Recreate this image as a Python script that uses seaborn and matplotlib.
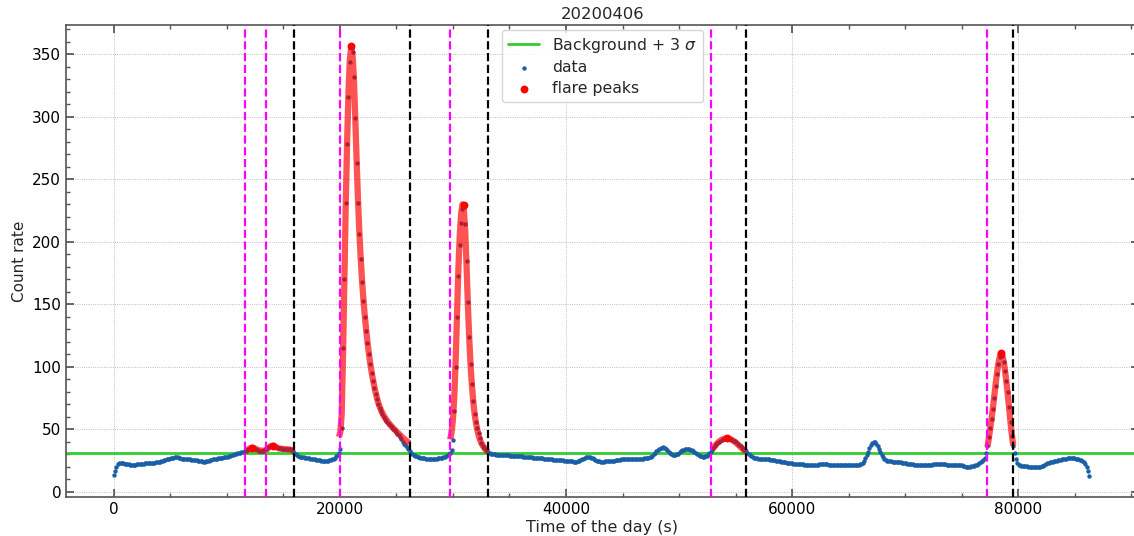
import numpy as np
import matplotlib
matplotlib.use("Agg")
import matplotlib.pyplot as plt
import seaborn as sns
from matplotlib.ticker import MultipleLocator

# light curve of 20200406, one bin every 120 s, one row per hour
cadence = 120
counts = [
    13.6, 17, 20, 22.5, 23.2, 23.2, 23, 22.8, 22.6, 22.4, 22.2, 22, 21.9, 21.8, 21.7, 21.8, 21.9, 22, 22.1, 22.2, 22.4, 22.5, 22.6, 22.8, 23, 23.1, 23.2, 23.2, 23.3, 23.4,
    23.5, 23.6, 23.8, 24, 24.3, 24.6, 25, 25.4, 25.8, 26.1, 26.4, 26.7, 27, 27.2, 27.4, 27.6, 27.7, 27.6, 27.3, 27, 26.7, 26.5, 26.3, 26.2, 26.1, 26, 26, 25.9, 25.8, 25.6,
    25.4, 25.2, 25, 24.8, 24.6, 24.4, 24.3, 24.3, 24.5, 24.8, 25.1, 25.4, 25.7, 26, 26.2, 26.4, 26.6, 26.8, 27, 27.2, 27.4, 27.6, 27.8, 28, 28.3, 28.6, 29, 29.4, 29.8, 30.2,
    30.5, 30.8, 31.1, 31.4, 31.7, 32, 32.3, 32.7, 33.3, 34, 34.7, 35.2, 35.4, 35.2, 34.6, 34, 33.4, 33, 32.8, 32.7, 32.8, 33.2, 34, 35, 35.9, 36.5, 36.9, 37, 36.8, 36.3,
    35.8, 35.3, 35, 34.8, 34.7, 34.7, 34.6, 34.6, 34.5, 34.3, 34, 33.5, 32.7, 31.5, 30.2, 29.2, 28.6, 28.3, 28.1, 27.9, 27.7, 27.5, 27.3, 27.1, 26.9, 26.7, 26.5, 26.3, 26.1, 25.9,
    25.7, 25.5, 25.3, 25.1, 24.9, 24.8, 24.8, 24.9, 25.1, 25.3, 25.6, 26, 26.5, 27.3, 28.5, 29.8, 31.5, 34.4, 50.9, 115, 170, 231, 278, 316, 343.5, 356.5, 352, 332, 299, 263,
    231, 206, 186, 168, 153, 140, 129, 119, 110, 102, 95, 89, 83.5, 78.5, 74, 70.5, 67.5, 64.8, 62.4, 60.2, 58.3, 56.8, 55.4, 54.1, 52.9, 51.7, 50.5, 49.2, 47.9, 46.6,
    45.3, 44, 42.2, 40.2, 38.6, 37.3, 36, 34.5, 32.8, 31.3, 30.2, 29.4, 28.8, 28.4, 28.1, 27.8, 27.5, 27.2, 27, 26.8, 26.7, 26.6, 26.5, 26.4, 26.4, 26.4, 26.4, 26.5, 26.6, 26.8,
    27, 27.2, 27.4, 27.6, 28, 28.6, 29.3, 30.1, 31.5, 33.6, 41.6, 65, 100, 140, 172.7, 197.4, 214.8, 226, 229, 214, 184.4, 152, 124, 102, 86, 73, 62, 56, 51, 47,
    43.5, 39.5, 37, 35, 33.5, 32.5, 31.7, 31, 30.6, 30.3, 30.1, 30, 29.9, 29.8, 29.8, 29.8, 29.7, 29.6, 29.5, 29.4, 29.3, 29.2, 29.1, 29.1, 29, 29, 28.9, 28.9, 28.8, 28.7,
    28.6, 28.5, 28.3, 28.2, 28, 27.9, 27.8, 27.7, 27.6, 27.5, 27.4, 27.3, 27.2, 27.1, 27, 26.9, 26.8, 26.6, 26.5, 26.4, 26.3, 26.2, 26.1, 26, 25.9, 25.8, 25.8, 25.7, 25.6, 25.5,
    25.4, 25.2, 25, 24.9, 24.8, 24.7, 24.6, 24.5, 24.4, 24.3, 24.3, 24.3, 24.5, 24.9, 25.4, 26, 26.6, 27.2, 27.6, 27.9, 28, 27.8, 27.4, 26.8, 26.2, 25.6, 25.1, 24.7, 24.4, 24.3,
    24.3, 24.3, 24.4, 24.5, 24.6, 24.7, 24.8, 24.8, 24.9, 25, 25.2, 25.4, 25.6, 25.8, 26, 26.1, 26.2, 26.2, 26.3, 26.3, 26.3, 26.4, 26.4, 26.4, 26.4, 26.5, 26.5, 26.6, 26.6, 26.7,
    26.7, 26.8, 26.9, 27, 27.2, 27.6, 28.2, 29, 30, 31.2, 32.4, 33.4, 34.3, 35, 35.5, 35.6, 35.2, 34.4, 33.4, 32.3, 31.2, 30.3, 29.7, 29.5, 29.6, 30, 30.7, 31.6, 32.5, 33.3,
    33.8, 34.1, 34.2, 34.2, 34, 33.7, 33.2, 32.6, 31.9, 31.1, 30.3, 29.5, 28.9, 28.4, 28.1, 28.1, 28.4, 29, 29.9, 31, 32.3, 33.7, 35.2, 36.7, 38, 39.2, 40.2, 41, 41.7, 42.2,
    42.6, 42.8, 42.9, 42.8, 42.6, 42.2, 41.7, 41.1, 40.4, 39.6, 38.6, 37.6, 36.5, 35.4, 34.3, 33.3, 32.4, 31.4, 30.2, 29.2, 28.4, 27.8, 27.3, 27, 26.8, 26.7, 26.6, 26.5, 26.5, 26.4,
    26.4, 26.3, 26.2, 26, 25.8, 25.6, 25.4, 25.2, 25, 24.8, 24.6, 24.4, 24.2, 24, 23.8, 23.6, 23.5, 23.3, 23.1, 23, 22.8, 22.7, 22.6, 22.5, 22.4, 22.3, 22.2, 22.1, 22, 21.9,
    21.8, 21.7, 21.7, 21.6, 21.6, 21.6, 21.6, 21.7, 21.8, 21.9, 22, 22.1, 22.1, 22.1, 22.1, 22.1, 22, 21.9, 21.8, 21.7, 21.6, 21.6, 21.6, 21.7, 21.7, 21.7, 21.6, 21.6, 21.6, 21.6,
    21.7, 21.8, 21.8, 21.8, 21.7, 21.6, 21.6, 21.6, 21.7, 21.9, 22.2, 22.7, 23.4, 25, 27.2, 29.6, 32.2, 34.8, 37.2, 39, 40, 39.8, 38.6, 36.6, 34.2, 31.8, 29.5, 27.6, 26.4, 25.6,
    25.1, 24.8, 24.6, 24.4, 24.3, 24.2, 24.1, 24, 23.9, 23.8, 23.7, 23.5, 23.3, 23, 22.8, 22.6, 22.4, 22.2, 22.1, 22, 21.9, 21.8, 21.7, 21.7, 21.6, 21.6, 21.6, 21.6, 21.6, 21.6,
    21.6, 21.7, 21.8, 21.9, 22, 22.1, 22.1, 22.1, 22.1, 22.1, 22.1, 22.1, 22.1, 22, 21.9, 21.8, 21.8, 21.8, 21.8, 21.8, 21.7, 21.7, 21.6, 21.6, 21.5, 21.2, 20.8, 20.5, 20.3, 20.2,
    20.2, 20.3, 20.5, 20.8, 21.1, 21.4, 21.7, 22.2, 22.9, 23.7, 24.5, 25.6, 27.5, 31.5, 37, 44, 51, 58, 66, 75, 85, 94, 102, 108, 111, 109, 104, 97, 89, 80,
    68, 56, 45, 37, 31, 26, 23, 21.8, 21.3, 21, 20.8, 20.6, 20.5, 20.4, 20.3, 20.3, 20.2, 20.2, 20.2, 20.2, 20.2, 20.2, 20.2, 20.3, 20.5, 21, 21.7, 22.4, 23, 23.4,
    23.7, 23.9, 24.1, 24.4, 24.7, 25, 25.3, 25.6, 25.9, 26.1, 26.3, 26.5, 26.7, 26.9, 27.1, 27.3, 27.4, 27.3, 27, 26.7, 26.4, 26.1, 25.7, 25.2, 24.6, 23.8, 22.3, 19.8, 16.5, 13,
]

background = 31.4  # background + 3 sigma

start_times = [11600, 13450, 19980, 29740, 52840, 77260]
end_times = [15930, 26200, 33100, 55930, 79560]

peak_times = [12240, 14040, 21000, 30960, 54240, 78480]
peak_counts = [35.4, 37, 356.5, 229, 42.9, 111]

# fitted flare profiles, same 120 s binning, first bin in fit_starts
fit_starts = [11640, 13440, 19920, 29760, 52920, 77280]
fit_a = [32.3, 33, 33.8, 34.6, 35.2, 35.5, 35.3, 34.8, 34.2, 33.7, 33.3, 33.1, 33, 33, 33.1, 33.3]
fit_b = [33.3, 34.2, 35.3, 36.2, 36.8, 37, 36.8, 36.2, 35.6, 35.1, 34.8, 34.6, 34.5, 34.4, 34.3,
         34.2, 34.1, 34, 33.8, 33.6, 33.4, 33.2]
fit_c = [44, 48, 62, 110, 170, 231, 280, 320, 346, 355, 349, 330, 299, 265, 234, 208, 187, 169, 154, 141,
         130, 120, 111, 103, 96, 90, 84.5, 79.5, 75, 71.2, 68, 65.3, 63, 61, 59.2, 57.6,
         56.1, 54.7, 53.4, 52.2, 51, 49.9, 48.8, 47.7, 46.6, 45.5, 44.4, 43.4, 42.4, 41.5, 40.6, 39.7, 38.9]
fit_d = [42, 48, 58, 76, 105, 142, 178, 205, 222, 230, 226, 210, 182, 150, 123, 101, 85, 72, 62, 55,
         49.5, 45, 41.5, 39, 37, 35.3, 34, 33, 32.2]
fit_e = [34, 35.4, 36.8, 38, 39.2, 40.2, 41, 41.7, 42.2, 42.6, 42.8, 42.9, 42.8, 42.5, 42, 41.4, 40.7,
         39.9, 39, 38, 37, 36, 35, 34, 33.1, 32.3]
fit_f = [36, 43, 50.5, 58.5, 67, 76.5, 86, 95, 102.5, 108, 110.5, 109, 104, 96.5, 87.5, 77.5, 66.5,
         55.5, 45.5, 37]
fits = [fit_a, fit_b, fit_c, fit_d, fit_e, fit_f]

sns.set_theme(style="ticks", rc={
    "xtick.direction": "in", "ytick.direction": "in",
    "xtick.top": True, "ytick.right": True,
    "xtick.minor.visible": True, "ytick.minor.visible": True,
    "xtick.major.size": 6, "ytick.major.size": 6,
    "xtick.minor.size": 3, "ytick.minor.size": 3,
    "axes.edgecolor": "#555555", "axes.linewidth": 1.2,
    "xtick.color": "#555555", "ytick.color": "#555555",
    "xtick.labelcolor": "black", "ytick.labelcolor": "black",
})
plt.rcParams["font.family"] = ["DejaVu Sans"]

fig = plt.figure(figsize=(11.34, 5.36), dpi=100)
# the right spine sits just past the edge of the picture
ax = fig.add_axes([0.0582, 0.0728, 0.9462, 0.8806])

time = np.arange(len(counts)) * cadence

ax.axhline(background, color="limegreen", lw=2, label=r"Background + 3 $\sigma$", zorder=2)
sns.scatterplot(x=time, y=counts, ax=ax, s=10, color="#1a5fa6", linewidth=0, label="data", zorder=3)

for t0, vals in zip(fit_starts, fits):
    t_fit = t0 + np.arange(len(vals)) * cadence
    ax.plot(t_fit, vals, color="red", lw=4.5, alpha=0.68, solid_capstyle="butt", zorder=4)

sns.scatterplot(x=peak_times, y=peak_counts, ax=ax, s=32, color="red", linewidth=0,
                label="flare peaks", zorder=5)

for t in start_times:
    ax.axvline(t, color="magenta", ls="--", lw=1.6, zorder=6)
for t in end_times:
    ax.axvline(t, color="black", ls="--", lw=1.6, zorder=6)

ax.set_xlim(-4226, 90682)
ax.set_ylim(-4, 373.3)
ax.xaxis.set_major_locator(MultipleLocator(20000))
ax.xaxis.set_minor_locator(MultipleLocator(5000))
ax.yaxis.set_major_locator(MultipleLocator(50))
ax.yaxis.set_minor_locator(MultipleLocator(10))
ax.tick_params(labelsize=11)
ax.grid(True, which="major", ls=":", color="#aaaaaa", lw=0.6)

ax.set_title("20200406", fontsize=11.8, pad=4)
ax.set_xlabel("Time of the day (s)", fontsize=11.5, labelpad=2)
ax.set_ylabel("Count rate", fontsize=11)

handles, labels = ax.get_legend_handles_labels()
ax.legend(handles, labels, loc="upper center", fontsize=11.3, frameon=True,
          labelspacing=0.35, borderaxespad=0.3)

fig.savefig("out.png", dpi=100)
